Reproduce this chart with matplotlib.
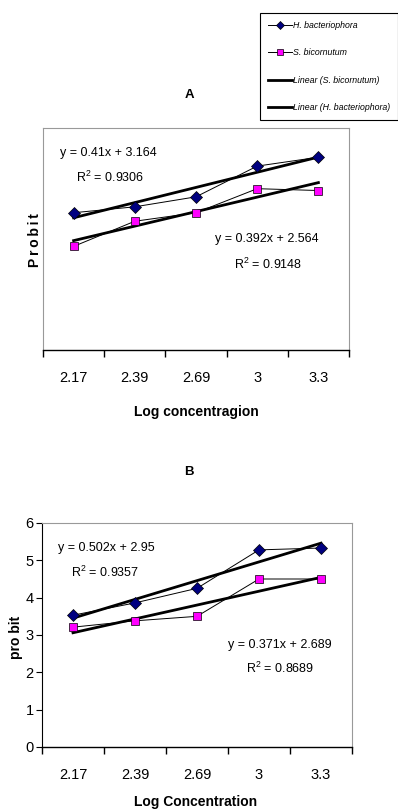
# probit vs log concentration, two panels (A, B) with linear trendlines
import numpy as np
import matplotlib
matplotlib.use('Agg')
import matplotlib.pyplot as plt
from matplotlib.lines import Line2D

plt.rcParams['font.family'] = ['Liberation Sans', 'DejaVu Sans']

# data
conc_labels = ['2.17', '2.39', '2.69', '3', '3.3']
a_hb = [3.71, 3.87, 4.14, 4.97, 5.21]   # H. bacteriophora, panel A
a_sb = [2.80, 3.48, 3.71, 4.36, 4.31]   # S. bicornutum, panel A
b_hb = [3.53, 3.86, 4.25, 5.28, 5.33]   # H. bacteriophora, panel B
b_sb = [3.21, 3.38, 3.50, 4.50, 4.50]   # S. bicornutum, panel B

# trendline coefficients (slope, intercept) and R^2 as printed
a_fit_hb = (0.41, 3.164, 0.9306)
a_fit_sb = (0.392, 2.564, 0.9148)
b_fit_hb = (0.502, 2.95, 0.9357)
b_fit_sb = (0.371, 2.689, 0.8689)

fig = plt.figure(figsize=(3.98, 8.10), dpi=100)
W, H = 398., 810.

def fx(px):
    return px / W

def fy(py):
    return 1 - py / H

axA = fig.add_axes([fx(43), fy(350), fx(349) - fx(43), fy(128) - fy(350)])
axB = fig.add_axes([fx(42), fy(747), fx(352) - fx(42), fy(523) - fy(747)])

x = np.arange(1, len(conc_labels) + 1)


def fmt_eq(s, b):
    return 'y = %gx + %g' % (s, b)


def panel(ax, hb, sb, fhb, fsb, show_y):
    ax.plot(x, hb, color='black', lw=0.7, marker='D', ms=6.5,
            mfc='#000080', mec='black', mew=0.5, zorder=3)
    ax.plot(x, sb, color='black', lw=0.7, marker='s', ms=6,
            mfc='#ff00ff', mec='black', mew=0.5, zorder=3)
    ax.plot(x, fhb[0] * x + fhb[1], color='black', lw=2.0, zorder=2)
    ax.plot(x, fsb[0] * x + fsb[1], color='black', lw=2.0, zorder=2)
    ax.set_xlim(0.5, 5.5)
    ax.set_ylim(0, 6)
    ax.set_xticks(np.arange(0.5, 6, 1.0))
    ax.set_xticklabels([])
    ax.set_xticks(x, minor=True)
    ax.set_xticklabels(conc_labels, minor=True, fontsize=10.5)
    ax.tick_params(axis='x', which='major', direction='out', length=5,
                   width=1, color='black')
    ax.tick_params(axis='x', which='minor', length=0, pad=15)
    for s in ['top', 'right']:
        ax.spines[s].set_color('#999999')
    ax.spines['bottom'].set_color('black')
    ax.spines['bottom'].set_linewidth(1)
    if show_y:
        ax.spines['left'].set_color('black')
        ax.set_yticks(range(0, 7))
        ax.tick_params(axis='y', direction='out', length=4, pad=2,
                       labelsize=10.5)
    else:
        ax.spines['left'].set_color('#999999')
        ax.set_yticks([])


panel(axA, a_hb, a_sb, a_fit_hb, a_fit_sb, False)
panel(axB, b_hb, b_sb, b_fit_hb, b_fit_sb, True)

# equations
fs = 9
r2 = '$\\mathregular{R^2}$ = %g'
fig.text(fx(108), fy(153), fmt_eq(a_fit_hb[0], a_fit_hb[1]), ha='center', va='center', fontsize=fs)
fig.text(fx(110), fy(177), r2 % a_fit_hb[2], ha='center', va='center', fontsize=fs)
fig.text(fx(267), fy(239), fmt_eq(a_fit_sb[0], a_fit_sb[1]), ha='center', va='center', fontsize=fs)
fig.text(fx(268), fy(264), r2 % a_fit_sb[2], ha='center', va='center', fontsize=fs)

fig.text(fx(106), fy(548), fmt_eq(b_fit_hb[0], b_fit_hb[1]), ha='center', va='center', fontsize=fs)
fig.text(fx(105), fy(572), r2 % b_fit_hb[2], ha='center', va='center', fontsize=fs)
fig.text(fx(280), fy(645), fmt_eq(b_fit_sb[0], b_fit_sb[1]), ha='center', va='center', fontsize=fs)
fig.text(fx(280), fy(668), r2 % b_fit_sb[2], ha='center', va='center', fontsize=fs)

# titles and axis labels
fig.text(fx(189), fy(95), 'A', ha='center', va='center', fontsize=9.5, fontweight='bold')
fig.text(fx(189), fy(472), 'B', ha='center', va='center', fontsize=9.5, fontweight='bold')
fig.text(fx(196), fy(412), 'Log concentragion', ha='center', va='center', fontsize=10, fontweight='bold')
fig.text(fx(196), fy(802), 'Log Concentration', ha='center', va='center', fontsize=10, fontweight='bold')
fig.text(fx(35), fy(240), 'P\u2009r\u2009o\u2009b\u2009i\u2009t', rotation=90,
         ha='center', va='center', fontsize=10, fontweight='bold')
fig.text(fx(16), fy(637), 'pro bit', rotation=90, ha='center', va='center',
         fontsize=10, fontweight='bold')

# legend
handles = [
    Line2D([], [], color='black', lw=0.7, marker='D', ms=4, mfc='#000080', mec='black', mew=0.5),
    Line2D([], [], color='black', lw=0.7, marker='s', ms=4, mfc='#ff00ff', mec='black', mew=0.5),
    Line2D([], [], color='black', lw=2.0),
    Line2D([], [], color='black', lw=2.0),
]
labels = ['H. bacteriophora', 'S. bicornutum',
          'Linear (S. bicornutum)', 'Linear (H. bacteriophora)']
leg = fig.legend(handles, labels, loc='upper left',
                 bbox_to_anchor=(fx(260), fy(13)), fontsize=6.3,
                 frameon=True, fancybox=False, edgecolor='black',
                 framealpha=1, handlelength=2.7, handletextpad=0.15,
                 labelspacing=2.1, borderpad=0.9, borderaxespad=0)
leg.get_frame().set_linewidth(0.8)
for t in leg.get_texts():
    t.set_fontstyle('italic')

fig.savefig('out.png', dpi=100)
